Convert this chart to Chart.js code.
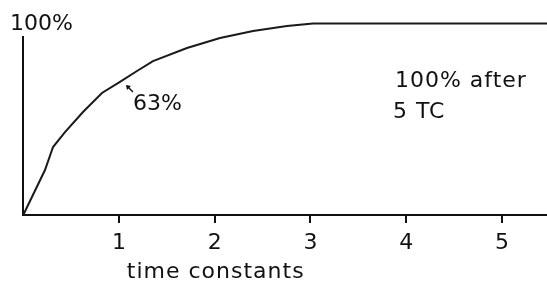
<!DOCTYPE html>
<html>
<head>
<meta charset="utf-8">
<script src="https://cdn.jsdelivr.net/npm/chart.js@4.4.1/dist/chart.umd.min.js"></script>
<style>
  html, body { margin: 0; padding: 0; background: #fff; }
  #wrap { width: 547px; height: 282px; }
  canvas { display: block; }
</style>
</head>
<body>
<div id="wrap"><canvas id="c" width="547" height="282"></canvas></div>
<script>
// ---- data ----
const timeConstants = [0, 0.227, 0.311, 0.436, 0.624, 0.822, 1.01, 1.188, 1.355, 1.71, 2.055, 2.40, 2.754, 3.026, 5.47];
const percentCharged = [0, 23.5, 35.5, 43.3, 53.8, 63.7, 69.5, 75.2, 80.4, 87.2, 92.4, 96.1, 98.7, 100, 100];
const xTickValues = [1, 2, 3, 4, 5];
const xAxisTitle = 'time constants';
const yTopLabel = '100%';
const markLabel = '63%';
const noteLines = ['100% after', '5 TC'];

const FONT = '"DejaVu Sans", sans-serif';
const INK = '#111';

const points = timeConstants.map((t, i) => ({ x: t, y: percentCharged[i] }));

const textPlugin = {
  id: 'texts',
  beforeDraw(chart) {
    const ctx = chart.ctx;
    ctx.save();
    ctx.fillStyle = '#fff';
    ctx.fillRect(0, 0, chart.width, chart.height);
    ctx.restore();
  },
  afterDraw(chart) {
    const ctx = chart.ctx;
    const xs = chart.scales.x, ys = chart.scales.y;
    const X = v => xs.getPixelForValue(v);
    const Y = v => ys.getPixelForValue(v);
    ctx.save();
    ctx.fillStyle = INK;
    ctx.textBaseline = 'alphabetic';
    ctx.font = '22px ' + FONT;

    // top label "100%"
    ctx.textAlign = 'left';
    ctx.letterSpacing = '0px';
    ctx.fillText(yTopLabel, X(-0.138), Y(96.6));

    // 63% annotation
    ctx.fillText(markLabel, X(1.146), Y(54.8));

    // arrow
    const tx = X(1.073), ty = Y(67.9), sx = X(1.146), sy = Y(64.2);
    ctx.strokeStyle = INK;
    ctx.lineWidth = 1.4;
    ctx.beginPath();
    ctx.moveTo(sx, sy);
    ctx.lineTo(tx + 1, ty + 1);
    ctx.stroke();
    ctx.beginPath();
    ctx.moveTo(tx, ty);
    ctx.lineTo(tx + 5, ty + 1);
    ctx.lineTo(tx + 1, ty + 5);
    ctx.closePath();
    ctx.fill();

    // note
    ctx.letterSpacing = '1px';
    ctx.fillText(noteLines[0], X(3.882), Y(66.8));
    ctx.fillText(noteLines[1], X(3.861), Y(50.7));

    // x axis title
    ctx.textAlign = 'center';
    ctx.fillText(xAxisTitle, X(2.01), Y(-32.9));
    ctx.restore();
  }
};

new Chart(document.getElementById('c'), {
  type: 'line',
  data: {
    datasets: [{
      data: points,
      borderColor: '#1a1a1a',
      borderWidth: 2,
      pointRadius: 0,
      tension: 0,
      fill: false,
      clip: false
    }]
  },
  options: {
    responsive: false,
    animation: false,
    devicePixelRatio: 1,
    layout: { padding: { left: 23.25, top: 37, right: 0, bottom: 0 } },
    plugins: { legend: { display: false }, tooltip: { enabled: false }, title: { display: false } },
    scales: {
      x: {
        type: 'linear',
        min: 0,
        max: 5.47,
        afterBuildTicks: s => { s.ticks = xTickValues.map(v => ({ value: v })); },
        afterFit: s => { s.height = 67; },
        grid: { display: true, drawOnChartArea: false, drawTicks: true, tickLength: 8, color: INK, lineWidth: 2 },
        border: { display: true, color: INK, width: 2 },
        ticks: { color: INK, font: { family: FONT, size: 22 }, padding: 7, maxRotation: 0, autoSkip: false }
      },
      y: {
        type: 'linear',
        min: 0,
        max: 92.95,
        afterFit: s => { s.width = 0; },
        grid: { display: false },
        border: { display: true, color: INK, width: 2 },
        ticks: { display: false }
      }
    }
  },
  plugins: [textPlugin]
});
</script>
</body>
</html>
